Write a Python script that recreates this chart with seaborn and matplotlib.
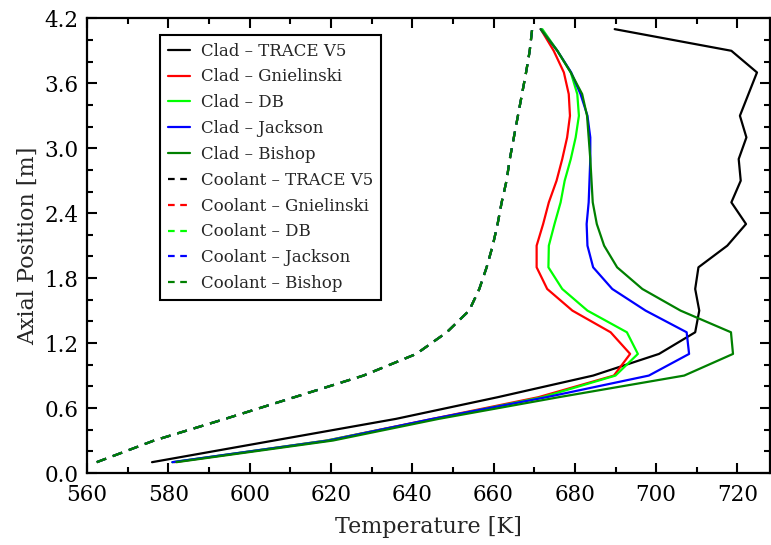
import numpy as np
import pandas as pd
import matplotlib
matplotlib.use("Agg")
import matplotlib.pyplot as plt
import seaborn as sns
from matplotlib.ticker import MultipleLocator

# axial nodes [m]
z = [0.1, 0.3, 0.5, 0.7, 0.9, 1.1, 1.3, 1.5, 1.7, 1.9, 2.1,
     2.3, 2.5, 2.7, 2.9, 3.1, 3.3, 3.5, 3.7, 3.9, 4.1]

# clad temperatures [K]
clad_trace = [576, 606, 636, 661, 684.5, 700.7, 709.6, 710.6, 709.6, 710.4, 717.5,
              722.1, 718.5, 720.8, 720.3, 722.2, 720.6, 722.7, 724.8, 718.5, 689.8]
clad_gniel = [581.5, 619, 645, 671, 689.6, 693.6, 688.8, 679.4, 673.2, 670.6, 670.6,
              672.2, 673.6, 675.5, 676.9, 678.1, 678.8, 678.5, 677.3, 674.8, 671.6]
clad_db = [581, 619, 645.5, 672, 690, 695.5, 692.8, 683.1, 676.9, 673.5, 673.6,
           675, 676.5, 677.5, 679, 680.2, 681, 680.6, 679, 675.7, 672]
clad_jackson = [581, 619.5, 645, 673, 698.2, 708.1, 707.5, 697.4, 689.2, 684.5, 683.1,
                682.9, 683.4, 683.6, 683.8, 683.8, 683.1, 681.4, 679.1, 675.7, 671.6]
clad_bishop = [582, 620.5, 646.5, 676, 706.9, 718.9, 718.4, 706, 696.6, 690.4, 687.2,
               685.4, 684.4, 684.1, 683.8, 683.4, 683, 681.8, 679, 675.7, 671.6]

# coolant temperatures [K] (all models practically identical)
cool_trace = [562.4, 576.5, 594, 611, 628, 641, 648.5, 654, 656.5, 658.3, 659.8,
              661, 662, 663.2, 664, 665, 666, 667, 668, 668.9, 669.5]
cool_gniel = cool_trace
cool_db = cool_trace
cool_jackson = cool_trace
cool_bishop = cool_trace

models = ["TRACE V5", "Gnielinski", "DB", "Jackson", "Bishop"]
colors = ["black", "#ff0000", "#00ff00", "#0000ff", "#008000"]
clad = [clad_trace, clad_gniel, clad_db, clad_jackson, clad_bishop]
cool = [cool_trace, cool_gniel, cool_db, cool_jackson, cool_bishop]

sns.set_style("ticks")
plt.rcParams["font.family"] = ["DejaVu Serif"]

fig = plt.figure(figsize=(7.71, 5.45), dpi=100)
ax = fig.add_axes([0.1128, 0.1321, 0.8859, 0.8343])

for name, c, t in zip(models, colors, clad):
    d = pd.DataFrame({"T": t, "z": z})
    sns.lineplot(data=d, x="T", y="z", sort=False, estimator=None,
                 color=c, lw=1.6, label="Clad \u2013 " + name, ax=ax)
for name, c, t in zip(models, colors, cool):
    d = pd.DataFrame({"T": t, "z": z})
    sns.lineplot(data=d, x="T", y="z", sort=False, estimator=None,
                 color=c, lw=1.6, label="Coolant \u2013 " + name, ax=ax)
    ax.lines[-1].set_dashes((4.5, 3.2))

ax.set_xlim(560, 728)
ax.set_ylim(0, 4.2)
ax.xaxis.set_major_locator(MultipleLocator(20))
ax.xaxis.set_minor_locator(MultipleLocator(10))
ax.yaxis.set_major_locator(MultipleLocator(0.6))
ax.yaxis.set_minor_locator(MultipleLocator(0.2))
ax.yaxis.set_major_formatter(matplotlib.ticker.FormatStrFormatter("%.1f"))
ax.tick_params(which="both", direction="in", top=True, right=True,
               width=1.5, labelsize=15.5, colors="black")
ax.tick_params(which="major", length=7.5)
ax.tick_params(axis="x", which="major", pad=8)
ax.tick_params(axis="y", which="major", pad=6)
ax.tick_params(which="minor", length=4.5)
for s in ax.spines.values():
    s.set_linewidth(1.6)
    s.set_color("black")

ax.set_xlabel("Temperature [K]", fontsize=16, labelpad=7)
ax.set_ylabel("Axial Position [m]", fontsize=16, labelpad=4)

leg = ax.legend(loc="upper left", bbox_to_anchor=(0.107, 0.963), fontsize=12,
                frameon=True, fancybox=False, handlelength=1.35, labelspacing=0.53,
                borderpad=0.45, handletextpad=0.65, borderaxespad=0)
leg.get_frame().set_edgecolor("black")
leg.get_frame().set_linewidth(1.5)
leg.get_frame().set_alpha(1)
for h in leg.get_lines()[5:]:
    h.set_dashes((3, 2.5))

fig.savefig("out.png", dpi=100)
